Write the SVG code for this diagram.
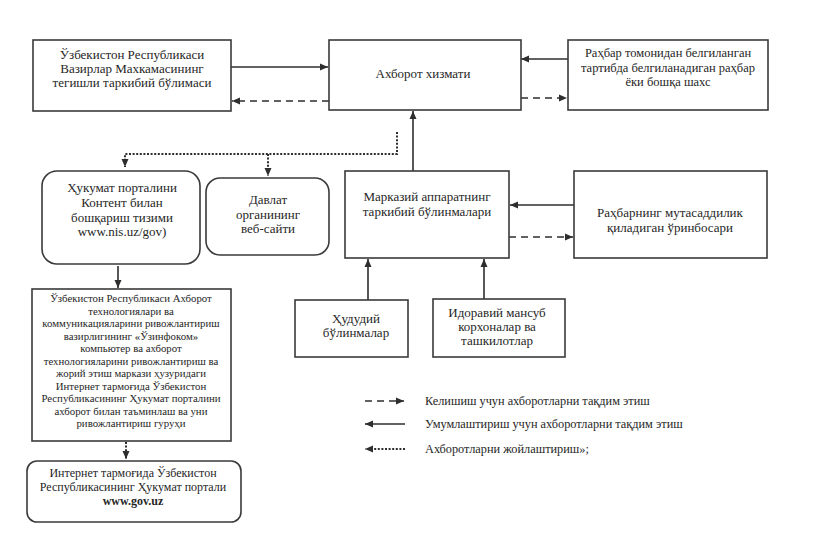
<svg xmlns="http://www.w3.org/2000/svg" width="823" height="558" viewBox="0 0 823 558">
<style>
.box{fill:#fff;stroke:#3a3a3a;stroke-width:1.6}
text{font-family:"Liberation Serif","Times New Roman",serif;font-size:13px;fill:#262626;text-anchor:middle}
.sm{font-size:12px}
.xs{font-size:10.8px}
.md{font-size:12.5px}
.lg{font-size:12.3px;text-anchor:start}
.b{font-weight:bold}
.ln{fill:none;stroke:#2e2e2e;stroke-width:1.6}
.da{stroke-dasharray:7 5}
.dt{stroke-dasharray:2 1.6;stroke-width:2}
</style>
<defs>
<marker id="ah" markerUnits="userSpaceOnUse" markerWidth="9" markerHeight="8" refX="8" refY="4" orient="auto">
<path d="M0,0.5 L8,4 L0,7.5 Z" fill="#2e2e2e"/>
</marker>
</defs>
<rect width="823" height="558" fill="#fff"/>

<g id="connectors">
<line class="ln" x1="231" y1="67" x2="328" y2="67" marker-end="url(#ah)"/>
<line class="ln da" x1="329" y1="101" x2="232" y2="101" marker-end="url(#ah)"/>
<line class="ln" x1="568" y1="59" x2="521" y2="59" marker-end="url(#ah)"/>
<line class="ln da" x1="521" y1="98" x2="567" y2="98" marker-end="url(#ah)"/>
<line class="ln" x1="413" y1="171" x2="413" y2="111" marker-end="url(#ah)"/>
<polyline class="ln dt" points="397,132 397,154 125,154 125,167" marker-end="url(#ah)"/>
<line class="ln dt" x1="268" y1="154" x2="268" y2="176" marker-end="url(#ah)"/>
<line class="ln" x1="574" y1="205" x2="510" y2="205" marker-end="url(#ah)"/>
<line class="ln da" x1="509" y1="237" x2="573" y2="237" marker-end="url(#ah)"/>
<line class="ln" x1="368" y1="300" x2="368" y2="259" marker-end="url(#ah)"/>
<line class="ln" x1="484" y1="299" x2="484" y2="259" marker-end="url(#ah)"/>
<line class="ln" x1="118" y1="266" x2="118" y2="288" marker-end="url(#ah)"/>
<line class="ln dt" x1="126" y1="442" x2="126" y2="459" marker-end="url(#ah)"/>
</g>

<g id="n1">
<rect class="box" x="33" y="40" width="198" height="71"/>
<text x="132" y="59">Ўзбекистон Республикаси</text>
<text x="132" y="73">Вазирлар Махкамасининг</text>
<text x="132" y="87">тегишли таркибий бўлимаси</text>
</g>
<g id="n2">
<rect class="box" x="329" y="40" width="192" height="70"/>
<text x="423" y="78">Ахборот хизмати</text>
</g>
<g id="n3">
<rect class="box" x="568" y="40" width="200" height="70"/>
<text class="md" x="668" y="57">Раҳбар томонидан белгиланган</text>
<text class="md" x="668" y="72">тартибда белгиланадиган раҳбар</text>
<text class="md" x="668" y="86">ёки бошқа шахс</text>
</g>
<g id="n4">
<rect class="box" x="42" y="171" width="158" height="93" rx="15"/>
<text x="122" y="192">Ҳукумат порталини</text>
<text x="122" y="207">Контент билан</text>
<text x="122" y="222">бошқариш тизими</text>
<text x="122" y="236">www.nis.uz/gov)</text>
</g>
<g id="n5">
<rect class="box" x="206" y="178" width="123" height="77" rx="14"/>
<text x="268" y="204">Давлат</text>
<text x="268" y="219">органининг</text>
<text x="268" y="233">веб-сайти</text>
</g>
<g id="n6">
<rect class="box" x="345" y="171" width="164" height="87"/>
<text x="427" y="201">Марказий аппаратнинг</text>
<text x="427" y="216">таркибий бўлинмалари</text>
</g>
<g id="n7">
<rect class="box" x="574" y="171" width="193" height="87"/>
<text x="670" y="217">Раҳбарнинг мутасаддилик</text>
<text x="670" y="232">қиладиган ўринбосари</text>
</g>
<g id="n8">
<rect class="box" x="295" y="300" width="113" height="57"/>
<text x="356" y="323">Ҳудудий</text>
<text x="356" y="337">бўлинмалар</text>
</g>
<g id="n9">
<rect class="box" x="433" y="299" width="132" height="58"/>
<text x="497" y="317">Идоравий мансуб</text>
<text x="497" y="331">корхоналар ва</text>
<text x="497" y="345">ташкилотлар</text>
</g>
<g id="n10">
<rect class="box" x="32" y="289" width="199" height="152"/>
<text class="xs" x="131" y="302">Ўзбекистон Республикаси Ахборот</text>
<text class="xs" x="131" y="314.5">технологиялари ва</text>
<text class="xs" x="131" y="327">коммуникацияларини ривожлантириш</text>
<text class="xs" x="131" y="339.5">вазирлигининг «Ўзинфоком»</text>
<text class="xs" x="131" y="352">компьютер ва ахборот</text>
<text class="xs" x="131" y="364.5">технологияларини ривожлантириш ва</text>
<text class="xs" x="131" y="377">жорий этиш маркази ҳузуридаги</text>
<text class="xs" x="131" y="389.5">Интернет тармоғида Ўзбекистон</text>
<text class="xs" x="131" y="402">Республикасининг Ҳукумат порталини</text>
<text class="xs" x="131" y="414.5">ахборот билан таъминлаш ва уни</text>
<text class="xs" x="131" y="427">ривожлантириш гуруҳи</text>
</g>
<g id="n11">
<rect class="box" x="27" y="461" width="214" height="61" rx="10"/>
<text class="sm" x="133" y="477">Интернет тармоғида Ўзбекистон</text>
<text class="sm" x="133" y="491">Республикасининг Ҳукумат портали</text>
<text class="sm b" x="133" y="505">www.gov.uz</text>
</g>

<g id="legend">
<line class="ln da" x1="365" y1="401" x2="404" y2="401" marker-end="url(#ah)"/>
<line class="ln" x1="405" y1="424" x2="365" y2="424" marker-end="url(#ah)"/>
<line class="ln dt" x1="405" y1="449" x2="365" y2="449" marker-end="url(#ah)"/>
<text class="lg" x="425" y="405">Келишиш учун ахборотларни тақдим этиш</text>
<text class="lg" x="425" y="428">Умумлаштириш учун ахборотларни тақдим этиш</text>
<text class="lg" x="425" y="453">Ахборотларни жойлаштириш»;</text>
</g>
</svg>
